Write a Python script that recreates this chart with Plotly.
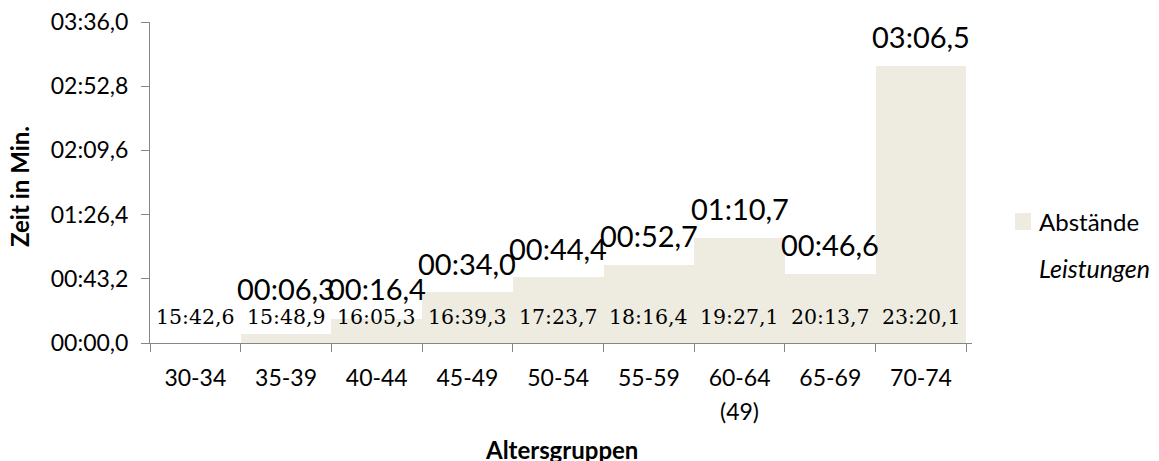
import plotly.graph_objects as go

# Age groups, group notes and times (seconds)
altersgruppen = ["30-34", "35-39", "40-44", "45-49", "50-54", "55-59", "60-64", "65-69", "70-74"]
gruppen_hinweis = ["", "", "", "", "", "", "(49)", "", ""]
abstaende = [0.0, 6.3, 16.4, 34.0, 44.4, 52.7, 70.7, 46.6, 186.5]
leistungen = [942.6, 948.9, 965.3, 999.3, 1043.7, 1096.4, 1167.1, 1213.7, 1400.1]
y_ticks = [0.0, 43.2, 86.4, 129.6, 172.8, 216.0]

BAR_COLOR = "#EEECE1"
AXIS_COLOR = "#868686"
SANS = "Lato, 'Open Sans', sans-serif"
SERIF = "'DejaVu Serif', serif"
PLOT_W = 1159 - 150 - 187
PLOT_H = 461 - 22 - 118


def mmss(sec):
    m = int(sec // 60)
    s = sec - 60 * m
    return f"{m:02d}:{s:04.1f}".replace(".", ",")


fig = go.Figure()
fig.add_trace(go.Bar(
    x=altersgruppen, y=abstaende, marker=dict(color=BAR_COLOR, line=dict(width=0)),
    width=1.0, showlegend=False, hoverinfo="skip",
))

annotations = []
# gap values above bars (kept clear of the finishing-time row)
for cat, v in zip(altersgruppen, abstaende):
    if v > 0:
        annotations.append(dict(
            x=cat, y=max(v, 17.0), xref="x", yref="y", text=mmss(v), showarrow=False,
            yanchor="middle", yshift=29, font=dict(family=SANS, size=29, color="#000"),
        ))
# finishing times inside bars
for cat, t in zip(altersgruppen, leistungen):
    annotations.append(dict(
        x=cat, y=0, xref="x", yref="y", text=mmss(t), showarrow=False,
        yanchor="middle", yshift=26, font=dict(family=SERIF, size=20.5, color="#000"),
    ))
# second line under category labels
for cat, note in zip(altersgruppen, gruppen_hinweis):
    if note:
        annotations.append(dict(
            x=cat, y=0, xref="x", yref="paper", text=note, showarrow=False,
            yanchor="middle", yshift=-68, font=dict(family=SANS, size=23, color="#000"),
        ))
# legend entries
annotations.append(dict(x=(1037 - 150) / PLOT_W, y=(343 - 221) / PLOT_H, xref="paper", yref="paper",
                        text="Abstände", showarrow=False, xanchor="left", yanchor="middle",
                        font=dict(family=SANS, size=24, color="#000")))
annotations.append(dict(x=(1037 - 150) / PLOT_W, y=(343 - 268) / PLOT_H, xref="paper", yref="paper",
                        text="<i>Leistungen</i>", showarrow=False, xanchor="left", yanchor="middle",
                        font=dict(family=SANS, size=25, color="#000")))
# axis titles
annotations.append(dict(x=0.5, y=0, xref="paper", yref="paper", text="<b>Altersgruppen</b>",
                        showarrow=False, xanchor="center", yanchor="middle", yshift=-106,
                        font=dict(family=SANS, size=24, color="#000")))
annotations.append(dict(x=(20 - 150) / PLOT_W, y=(343 - 187) / PLOT_H, xref="paper", yref="paper",
                        text="<b>Zeit in Min.</b>", textangle=-90, showarrow=False,
                        xanchor="center", yanchor="middle",
                        font=dict(family=SANS, size=24, color="#000")))

fig.update_layout(
    width=1159, height=461,
    margin=dict(l=150, r=187, t=22, b=118),
    paper_bgcolor="white", plot_bgcolor="white",
    bargap=0,
    annotations=annotations,
    shapes=[dict(type="rect", xref="paper", yref="paper",
                 x0=(1015 - 150) / PLOT_W, x1=(1031 - 150) / PLOT_W,
                 y0=(343 - 230) / PLOT_H, y1=(343 - 213) / PLOT_H,
                 fillcolor=BAR_COLOR, line=dict(width=0))],
    xaxis=dict(
        type="category", automargin=False, showline=True, linecolor=AXIS_COLOR, linewidth=1,
        ticks="outside", tickson="boundaries", ticklen=8, tickcolor=AXIS_COLOR,
        ticklabelstandoff=14,
        tickfont=dict(family=SANS, size=23, color="#000"), showgrid=False,
    ),
    yaxis=dict(
        range=[0, 216], tickvals=y_ticks, ticktext=[mmss(v) for v in y_ticks], automargin=False,
        showline=True, linecolor=AXIS_COLOR, linewidth=1, showgrid=False, zeroline=False,
        ticks="outside", ticklen=8, tickcolor=AXIS_COLOR, ticklabelstandoff=8,
        tickfont=dict(family=SANS, size=23, color="#000"),
    ),
)

fig.write_html("out.html")
